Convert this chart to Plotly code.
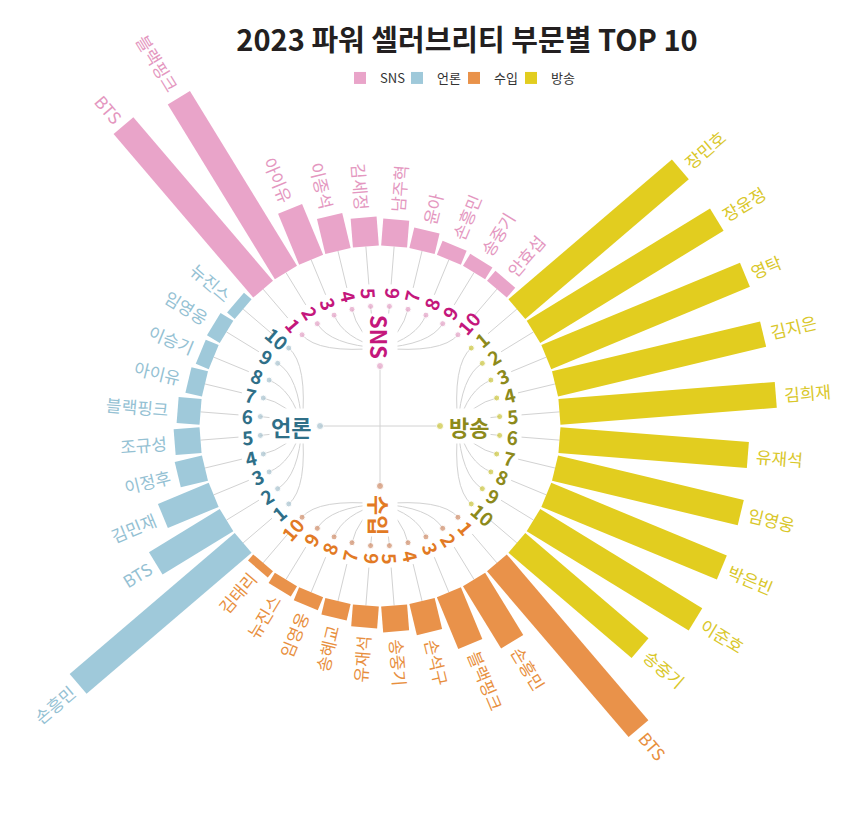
import math
import plotly.graph_objects as go

# categories around the circle (clockwise from the top) and legend order
categories = ["SNS", "방송", "수입", "언론"]
legend_order = ["SNS", "언론", "수입", "방송"]
ranks = list(range(1, 11))

# bar lengths (px beyond the inner circle)
sns_names = ["BTS", "블랙핑크", "아이유", "이종석", "김세정", "남주혁", "윤아", "손흥민", "송중기", "안효섭"]
sns_values = [215, 205, 55, 36, 29, 27, 21, 15, 14, 13]

tv_names = ["장민호", "장윤정", "영탁", "김지은", "김희재", "유재석", "임영웅", "박은빈", "이준호", "송중기"]
tv_values = [215, 215, 215, 214, 217, 189, 191, 190, 190, 162]

income_names = ["BTS", "손흥민", "블랙핑크", "손석구", "송중기", "유재석", "송혜교", "임영웅", "뉴진스", "김태리"]
income_values = [218, 73, 56, 32, 26, 22, 17, 14, 12, 8]

press_names = ["손흥민", "BTS", "김민재", "이정후", "조규성", "블랙핑크", "아이유", "이승기", "임영웅", "뉴진스"]
press_values = [217, 83, 55, 28, 26, 23, 17, 14, 15, 10]

names = {"SNS": sns_names, "방송": tv_names, "수입": income_names, "언론": press_names}
values = {"SNS": sns_values, "방송": tv_values, "수입": income_values, "언론": press_values}

bar_col = {"SNS": "#e9a4c9", "방송": "#e2cd1f", "수입": "#e9924a", "언론": "#9fc9da"}
lab_col = {"SNS": "#e497c0", "방송": "#d9c72a", "수입": "#e88f3e", "언론": "#94c1d3"}
num_col = {"SNS": "#c4177c", "방송": "#8d8a1b", "수입": "#e27a24", "언론": "#2f6f88"}
dot_col = {"SNS": "#e3a1c5", "방송": "#cbc53b", "수입": "#cf8c68", "언론": "#a8c3cf"}

W, H = 850, 823
CX, CY = 372, 418          # centre of the wheel in px
BASE = 180                 # inner circle radius in px (bars start here)
FONT = "Noto Sans CJK KR"
LINE = "#d2d2d2"


def theta(ci, i):
    # clockwise from 12 o'clock, 9 degrees per bar
    return -40.5 + 9 * (10 * ci + i)


def xy(r, th):
    a = math.radians(th)
    return r * math.sin(a), r * math.cos(a)


def text_angle(th):
    t = th % 360
    if t == 0:
        return 90
    if t <= 180:
        return t - 90
    return t - 270


def text_w(s, size):
    return sum(size if ord(ch) > 0x1100 else size * 0.62 for ch in s)


fig = go.Figure()
annotations = []
shapes = []

# spokes between the rank numbers and the bars
sx, sy = [], []
for ci in range(4):
    for i in range(10):
        x0, y0 = xy(142, theta(ci, i))
        x1, y1 = xy(BASE, theta(ci, i))
        sx += [x0, x1, None]
        sy += [y0, y1, None]
fig.add_trace(go.Scatter(x=sx, y=sy, mode="lines", line=dict(color=LINE, width=1),
                         showlegend=False, hoverinfo="skip"))

# the cross through the centre
cx_, cy_ = [], []
for a, b in [(0, 180), (90, 270)]:
    x0, y0 = xy(60, a)
    x1, y1 = xy(60, b)
    cx_ += [x0, x1, None]
    cy_ += [y0, y1, None]
fig.add_trace(go.Scatter(x=cx_, y=cy_, mode="lines", line=dict(color=LINE, width=1),
                         showlegend=False, hoverinfo="skip"))

for ci, cat in enumerate(categories):
    ths = [theta(ci, i) for i in range(10)]
    vals = values[cat]

    # bars as thick radial strokes (rectangles)
    bx, by = [], []
    for th, v in zip(ths, vals):
        x0, y0 = xy(BASE, th)
        x1, y1 = xy(BASE + v, th)
        bx += [x0, x1, None]
        by += [y0, y1, None]
    fig.add_trace(go.Scatter(x=bx, y=by, mode="lines", line=dict(color=bar_col[cat], width=26),
                             showlegend=False, name=cat, hoverinfo="skip"))

    # rank dots and the category dot
    pts = [xy(120, th) for th in ths] + [xy(60, ci * 90)]
    fig.add_trace(go.Scatter(x=[p[0] for p in pts], y=[p[1] for p in pts], mode="markers",
                             marker=dict(color=dot_col[cat], size=[6] * 10 + [7]),
                             showlegend=False, hoverinfo="skip"))

    # connector curves from the category label to each dot
    hx, hy = xy(78, ci * 90)
    for th in ths:
        qx, qy = xy(95, th)
        dx, dy = xy(120, th)
        shapes.append(dict(type="path", xref="x", yref="y", layer="below",
                           path=f"M {hx:.1f},{hy:.1f} Q {qx:.1f},{qy:.1f} {dx:.1f},{dy:.1f}",
                           line=dict(color=LINE, width=1)))

    # category label
    lx, ly = xy(89, ci * 90)
    annotations.append(dict(x=lx, y=ly, xref="x", yref="y", text=f"<b>{cat}</b>", showarrow=False,
                            textangle=text_angle(ci * 90), bgcolor="white",
                            font=dict(family=FONT, size=22, color=num_col[cat])))

    for i, (th, v, nm) in enumerate(zip(ths, vals, names[cat])):
        ta = text_angle(th)
        # outer name label
        r = BASE + v + 6 + text_w(nm, 17) / 2
        x, y = xy(r, th)
        annotations.append(dict(x=x, y=y, xref="x", yref="y", text=nm, showarrow=False, textangle=ta,
                                font=dict(family=FONT, size=17, color=lab_col[cat])))
        # rank number
        rk = str(ranks[i])
        x, y = xy(133 + (3 if len(rk) > 1 else 0), th)
        annotations.append(dict(x=x, y=y, xref="x", yref="y", text=f"<b>{rk}</b>", showarrow=False,
                                textangle=ta, font=dict(family=FONT, size=19, color=num_col[cat])))

# legend swatches (last, empty entry only keeps the final label from being cut)
for cat in legend_order:
    fig.add_trace(go.Scatter(x=[None], y=[None], mode="markers", name=cat,
                             marker=dict(symbol="square", size=12, color=bar_col[cat])))
fig.add_trace(go.Scatter(x=[None], y=[None], mode="markers", name=" ",
                         marker=dict(symbol="square", size=12, color="rgba(0,0,0,0)")))

fig.update_layout(
    width=W, height=H, margin=dict(l=0, r=0, t=0, b=0),
    paper_bgcolor="white", plot_bgcolor="rgba(0,0,0,0)",
    title=dict(text="2023 파워 셀러브리티 부문별 TOP 10", x=459 / W, y=1 - 33 / H,
               xanchor="center", yanchor="middle",
               font=dict(family=FONT, size=29, color="#231f20", weight="bold")),
    xaxis=dict(range=[-CX, W - CX], visible=False, fixedrange=True),
    yaxis=dict(range=[-(H - CY), CY], visible=False, fixedrange=True),
    legend=dict(orientation="h", x=332 / W, xanchor="left", y=1 - 70 / H, yanchor="middle",
                entrywidth=12, font=dict(family=FONT, size=13, color="#333333"),
                bgcolor="rgba(0,0,0,0)"),
    annotations=annotations,
    shapes=shapes,
)

fig.write_html("out.html")
